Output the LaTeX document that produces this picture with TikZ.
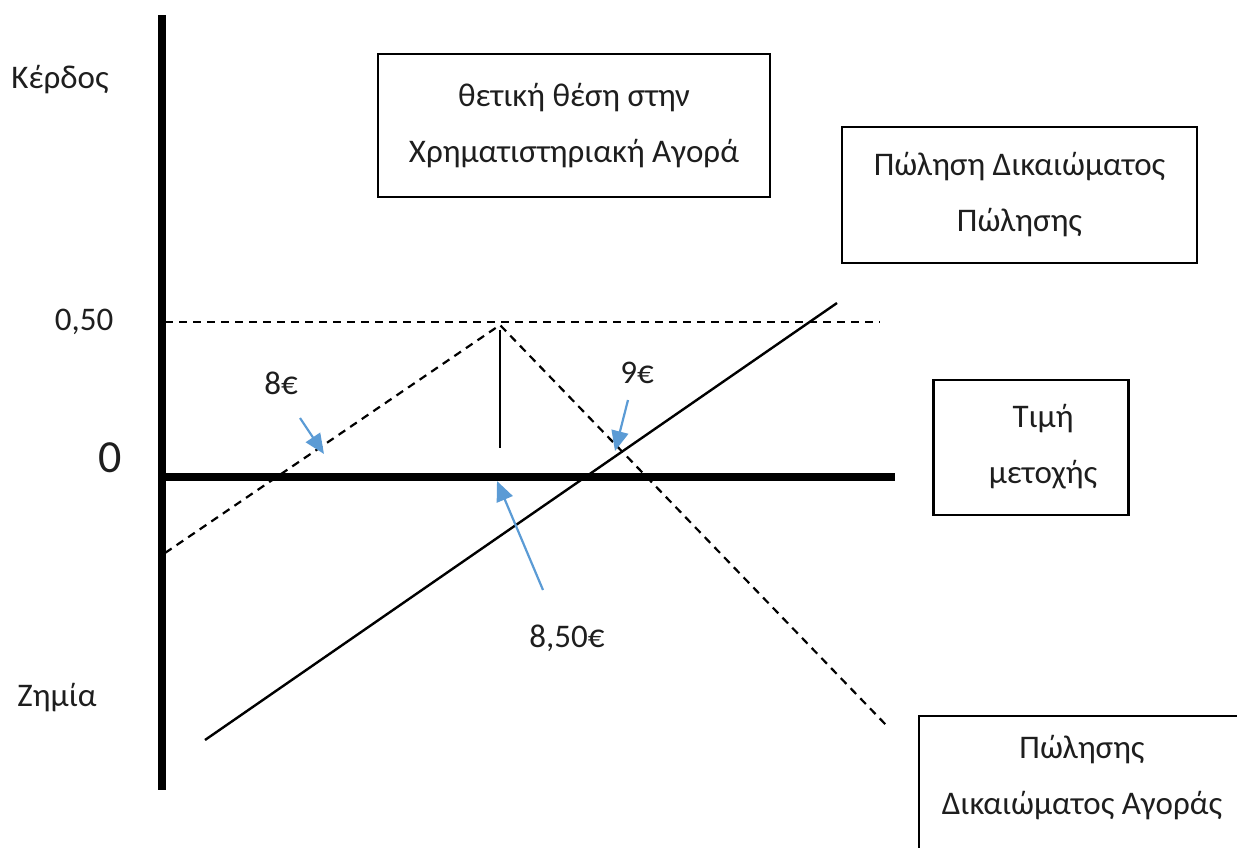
\documentclass[tikz,border=0pt]{standalone}
\usepackage{fontspec}
\setmainfont{Carlito}
\usetikzlibrary{arrows.meta}
\definecolor{pointerblue}{RGB}{91,155,213}
\definecolor{inktext}{RGB}{30,30,30}
\begin{document}
\begin{tikzpicture}[x=1pt,y=-1pt,
  lbl/.style={font=\fontsize{33}{38}\selectfont, inner sep=0pt, text=inktext},
  infobox/.style={draw, line width=2.3pt, inner sep=0pt, align=center,
    text=inktext, font=\fontsize{33}{56}\selectfont},
  axis/.style={line width=7.5pt},
  payoff/.style={line width=2.4pt},
  guide/.style={line width=2.2pt, dash pattern=on 8pt off 6pt},
  pointer/.style={pointerblue, line width=2.2pt, -{Triangle[length=20pt,width=17pt]}}]
\useasboundingbox (0,0) rectangle (1237,847);
\clip (0,0) rectangle (1237,847);

% key points of the chart
\coordinate (ytop) at (162,15);
\coordinate (ybot) at (162,790);
\coordinate (xl) at (158,477);
\coordinate (xr) at (895,477);
\coordinate (hl) at (165,322);
\coordinate (hr) at (880,322);
\coordinate (tl) at (165,553);
\coordinate (peak) at (500,325);
\coordinate (tr) at (888,727);
\coordinate (vtop) at (500,330);
\coordinate (vbot) at (500,448);
\coordinate (sl) at (205,740);
\coordinate (sr) at (837,303);

% axes
\draw[axis] (ytop) -- (ybot);
\draw[axis] (xl) -- (xr);

% dashed guides and tent-shaped payoff
\draw[guide] (hl) -- (hr);
\draw[guide] (tl) -- (peak) -- (tr);

% solid payoff line and peak marker
\draw[payoff] (sl) -- (sr);
\draw[line width=2.2pt] (vtop) -- (vbot);

% axis labels
\node[lbl] (gain) at (60,80) {Κέρδος};
\node[lbl] (loss) at (57,698) {Ζημία};
\node[lbl] (half) at (84,322) {0,50};
\node[lbl, font=\fontsize{46}{50}\selectfont] (zero) at (110,458) {0};

% price labels
\node[lbl] (p8) at (281,383) {8€};
\node[lbl] (p9) at (637,373) {9€};
\node[lbl] (p85) at (567,638) {8,50€};

% pointer arrows
\coordinate (a8s) at (300,418);
\coordinate (a8e) at (324,454);
\coordinate (a9s) at (628,400);
\coordinate (a9e) at (615,451);
\coordinate (a85s) at (543,590);
\coordinate (a85e) at (497,481);
\draw[pointer] (a8s) -- (a8e);
\draw[pointer] (a9s) -- (a9e);
\draw[pointer] (a85s) -- (a85e);

% text boxes
\node[infobox, minimum width=392pt, minimum height=143pt] (stock) at (574,125.5)
  {θετική θέση στην\\Χρηματιστηριακή Αγορά};
\node[infobox, minimum width=355pt, minimum height=136pt] (sellput) at (1019.5,195)
  {Πώληση Δικαιώματος\\Πώλησης};
\node[infobox, minimum width=195pt, minimum height=135pt] (price) at (1031,447.5) {};
\node[lbl] (pricetxt) at (1043,448) {\begin{tabular}{@{}c@{}}Τιμή\\[18pt]μετοχής\end{tabular}};
\node[infobox, minimum width=340pt, minimum height=160pt, anchor=north west] (sellcall) at (918,715) {};
\node[lbl] (sellcalltxt) at (1082,779) {\begin{tabular}{@{}c@{}}Πώλησης\\[18pt]Δικαιώματος Αγοράς\end{tabular}};
\end{tikzpicture}
\end{document}
